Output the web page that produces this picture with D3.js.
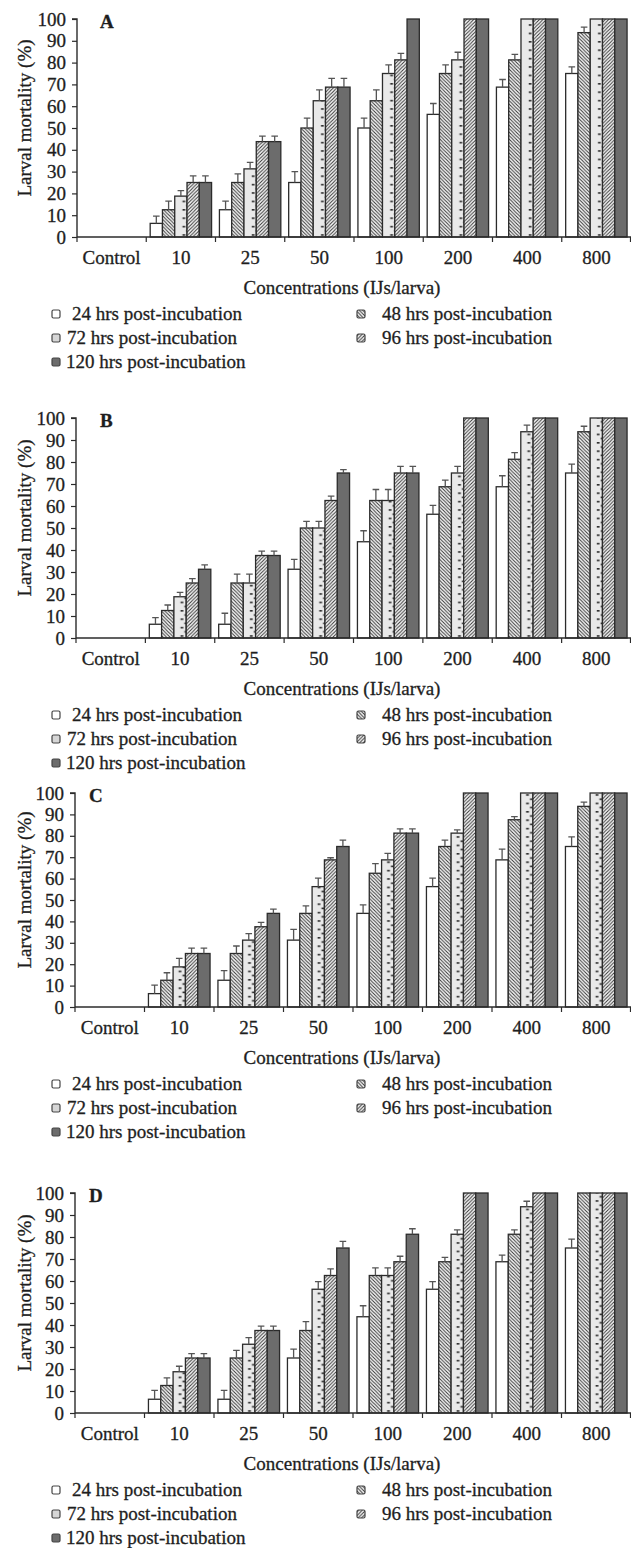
<!DOCTYPE html>
<html>
<head>
<meta charset="utf-8">
<script src="https://cdn.jsdelivr.net/npm/d3@7"></script>
<style>
  html, body { margin: 0; padding: 0; background: #fff; }
  svg { display: block; }
  text { font-family: "Liberation Serif", "Times New Roman", serif; fill: #1e1e1e; stroke: #1e1e1e; stroke-width: 0.3px; }
</style>
</head>
<body>
<svg id="chart" width="631" height="1548"></svg>
<script>
// Concentrations of infective juveniles per larva (x categories)
const concentrations = ["Control", "10", "25", "50", "100", "200", "400", "800"];
// Exposure times (series)
const seriesKeys = ["24", "48", "72", "96", "120"];
const seriesNames = [
  "24 hrs post-incubation", "48 hrs post-incubation", "72 hrs post-incubation",
  "96 hrs post-incubation", "120 hrs post-incubation"
];
const yTicks = [0, 10, 20, 30, 40, 50, 60, 70, 80, 90, 100];
const panelLetters = ["A", "B", "C", "D"];

// Mean larval mortality (%), rows = 24, 48, 72, 96, 120 hrs
const mortalityA = [
  [0, 6.25, 12.5, 25, 50, 56.25, 68.75, 75],
  [0, 12.5, 25, 50, 62.5, 75, 81.25, 93.75],
  [0, 18.75, 31.25, 62.5, 75, 81.25, 100, 100],
  [0, 25, 43.75, 68.75, 81.25, 100, 100, 100],
  [0, 25, 43.75, 68.75, 100, 100, 100, 100]
];
const errorA = [
  [0, 3.3, 4, 5, 4.5, 5, 3.5, 3],
  [0, 4, 4, 4.5, 5, 4, 2.5, 2.5],
  [0, 2.5, 3, 5, 4, 3.5, 0, 0],
  [0, 3, 2.5, 4, 3, 0, 0, 0],
  [0, 3, 2.5, 4, 0, 0, 0, 0]
];

const mortalityB = [
  [0, 6.25, 6.25, 31.25, 43.75, 56.25, 68.75, 75],
  [0, 12.5, 25, 50, 62.5, 68.75, 81.25, 93.75],
  [0, 18.75, 25, 50, 62.5, 75, 93.75, 100],
  [0, 25, 37.5, 62.5, 75, 100, 100, 100],
  [0, 31.25, 37.5, 75, 75, 100, 100, 100]
];
const errorB = [
  [0, 3, 5, 4.5, 5, 4, 5, 4],
  [0, 2.5, 4, 3, 5, 3, 3, 2.5],
  [0, 2, 4, 3, 5, 3, 3, 0],
  [0, 2, 2, 2, 3, 0, 0, 0],
  [0, 2, 2, 1.5, 3, 0, 0, 0]
];

const mortalityC = [
  [0, 6.25, 12.5, 31.25, 43.75, 56.25, 68.75, 75],
  [0, 12.5, 25, 43.75, 62.5, 75, 87.5, 93.75],
  [0, 18.75, 31.25, 56.25, 68.75, 81.25, 100, 100],
  [0, 25, 37.5, 68.75, 81.25, 100, 100, 100],
  [0, 25, 43.75, 75, 81.25, 100, 100, 100]
];
const errorC = [
  [0, 4, 4.5, 5, 4, 4, 5, 4.5],
  [0, 3.5, 3.5, 3.5, 4.5, 3, 1.5, 2],
  [0, 4, 3, 4, 3, 1.5, 0, 0],
  [0, 2.5, 2, 1, 2, 0, 0, 0],
  [0, 2.5, 2, 3, 2, 0, 0, 0]
];

const mortalityD = [
  [0, 6.25, 6.25, 25, 43.75, 56.25, 68.75, 75],
  [0, 12.5, 25, 37.5, 62.5, 68.75, 81.25, 100],
  [0, 18.75, 31.25, 56.25, 62.5, 81.25, 93.75, 100],
  [0, 25, 37.5, 62.5, 68.75, 100, 100, 100],
  [0, 25, 37.5, 75, 81.25, 100, 100, 100]
];
const errorD = [
  [0, 4, 4, 4, 5, 3.5, 3, 4],
  [0, 3.5, 3.5, 4, 3.5, 2, 2, 0],
  [0, 2.5, 3, 3.5, 3.5, 2, 2.5, 0],
  [0, 2, 2, 3, 2.5, 0, 0, 0],
  [0, 2, 2, 3, 2.5, 0, 0, 0]
];

const panelMortality = [mortalityA, mortalityB, mortalityC, mortalityD];
const panelError = [errorA, errorB, errorC, errorD];

// Layout of the four stacked panels
const panelTop = [19, 418, 793, 1193];
const panelBottom = [237, 638, 1007, 1413];
const panelLeft = [77, 76, 75, 75];
const letterX = [100, 100, 89, 89];
const plotRight = 631;

const svg = d3.select("#chart");
const defs = svg.append("defs");
const ink = "#2b2b2b";

// Diagonal hatch fills for the 48 and 96 hrs bars
function hatch(id, back) {
  const s = 3.5;
  const p = defs.append("pattern").attr("id", id)
    .attr("patternUnits", "userSpaceOnUse").attr("width", s).attr("height", s);
  p.append("rect").attr("width", s).attr("height", s).attr("fill", "#fafafa");
  const d = back
    ? `M0,0 L${s},${s} M-1,${s - 1} L1,${s + 1} M${s - 1},-1 L${s + 1},1`
    : `M0,${s} L${s},0 M-1,1 L1,-1 M${s - 1},${s + 1} L${s + 1},${s - 1}`;
  p.append("path").attr("d", d).attr("stroke", "#333").attr("stroke-width", 1);
}
hatch("hatch48", true);
hatch("hatch96", false);

function fillFor(i, pid) {
  return ["#ffffff", "url(#hatch48)", `url(#dash72_${pid})`, "url(#hatch96)", "#6c6c6c"][i];
}

panelLetters.forEach((letter, pi) => {
  const top = panelTop[pi], bottom = panelBottom[pi], left = panelLeft[pi];
  const mortality = panelMortality[pi], errors = panelError[pi];

  const y = d3.scaleLinear().domain([0, 100]).range([bottom, top]);
  const x0 = d3.scaleBand().domain(concentrations).range([left, plotRight]).padding(0);
  const x1 = d3.scaleBand().domain(seriesKeys).range([0, x0.bandwidth()])
    .paddingInner(0).paddingOuter(0.32);

  // Ladder-like dash pattern for the 72 hrs bars, one tile per category band
  const bx = x1("72"), bw = x1.bandwidth();
  const dp = defs.append("pattern").attr("id", `dash72_${pi}`)
    .attr("patternUnits", "userSpaceOnUse")
    .attr("x", left).attr("y", bottom)
    .attr("width", x0.step()).attr("height", 8.4);
  dp.append("rect").attr("width", x0.step()).attr("height", 8.4).attr("fill", "#e9e9e9");
  dp.append("rect").attr("x", bx + bw / 2 - 2.3).attr("y", 1.4).attr("width", 4.6).attr("height", 1.6).attr("fill", "#2e2e2e");
  dp.append("rect").attr("x", bx).attr("y", 5.6).attr("width", 2.8).attr("height", 1.6).attr("fill", "#2e2e2e");
  dp.append("rect").attr("x", bx + bw - 2.8).attr("y", 5.6).attr("width", 2.8).attr("height", 1.6).attr("fill", "#2e2e2e");

  const g = svg.append("g");

  // Bars and upward error bars
  const groups = g.selectAll("g.cat").data(concentrations).join("g")
    .attr("class", "cat")
    .attr("transform", c => `translate(${x0(c)},0)`);

  groups.each(function (c, ci) {
    const cell = d3.select(this);
    const rows = seriesKeys.map((k, si) => ({ k, si, v: mortality[si][ci], e: errors[si][ci] }))
      .filter(d => d.v > 0);
    cell.selectAll("rect.bar").data(rows).join("rect")
      .attr("class", "bar")
      .attr("x", d => x1(d.k))
      .attr("y", d => y(d.v))
      .attr("width", x1.bandwidth())
      .attr("height", d => y(0) - y(d.v))
      .attr("fill", d => fillFor(d.si, pi))
      .attr("stroke", ink).attr("stroke-width", 1.3);

    const eb = rows.filter(d => d.e > 0);
    cell.selectAll("path.err").data(eb).join("path")
      .attr("class", "err")
      .attr("d", d => {
        const cx = x1(d.k) + x1.bandwidth() / 2;
        const yt = y(d.v + d.e);
        return `M${cx},${y(d.v)} V${yt} M${cx - 3.3},${yt} H${cx + 3.3}`;
      })
      .attr("fill", "none").attr("stroke", "#555").attr("stroke-width", 1.3);
  });

  // Y axis
  const yAxis = g.append("g").attr("transform", `translate(${left},0)`)
    .call(d3.axisLeft(y).tickValues(yTicks).tickSize(5).tickPadding(6));
  yAxis.select(".domain").attr("stroke", ink).attr("stroke-width", 1.4).attr("d", `M-5,${top}H0V${bottom}`);
  yAxis.selectAll(".tick line").attr("stroke", ink).attr("stroke-width", 1.2);
  yAxis.selectAll(".tick text").attr("font-size", 19).attr("fill", "#1e1e1e")
    .attr("font-family", "Liberation Serif, serif");

  // X axis with ticks at category boundaries
  const xg = g.append("g");
  xg.append("line").attr("x1", left).attr("x2", plotRight).attr("y1", bottom).attr("y2", bottom)
    .attr("stroke", ink).attr("stroke-width", 1.4);
  const bounds = concentrations.map(c => x0(c)).concat([plotRight - 0.5]);
  xg.selectAll("line.bt").data(bounds).join("line").attr("class", "bt")
    .attr("x1", d => d).attr("x2", d => d).attr("y1", bottom).attr("y2", bottom + 5)
    .attr("stroke", ink).attr("stroke-width", 1.2);
  xg.selectAll("text.cl").data(concentrations).join("text").attr("class", "cl")
    .attr("x", c => x0(c) + x0.bandwidth() / 2)
    .attr("y", bottom + 27)
    .attr("text-anchor", "middle").attr("font-size", 19)
    .text(c => c);

  // Axis titles and panel letter
  g.append("text").attr("x", 342).attr("y", bottom + 57)
    .attr("text-anchor", "middle").attr("font-size", 19)
    .text("Concentrations (IJs/larva)");
  g.append("text")
    .attr("transform", `translate(31,${(top + bottom) / 2 - 10}) rotate(-90)`)
    .attr("text-anchor", "middle").attr("font-size", 19)
    .text("Larval mortality (%)");
  g.append("text").attr("x", letterX[pi]).attr("y", top + 9)
    .attr("font-size", 19).attr("font-weight", "bold").text(letter);

  // Legend
  const legendPos = [
    { sx: 52, tx: 72, row: 0 }, { sx: 357, tx: 382, row: 0 },
    { sx: 52, tx: 67, row: 1 }, { sx: 357, tx: 382, row: 1 },
    { sx: 52, tx: 66, row: 2 }
  ];
  const lg = g.append("g");
  seriesNames.forEach((name, si) => {
    const p = legendPos[si];
    const cy = bottom + 77 + p.row * 24;
    lg.append("rect").attr("x", p.sx).attr("y", cy - 4).attr("width", 8).attr("height", 8)
      .attr("rx", 1.5).attr("fill", si === 2 ? "#d6d6d6" : fillFor(si, pi))
      .attr("stroke", "#444").attr("stroke-width", 1.2);
    lg.append("text").attr("x", p.tx).attr("y", cy + 6).attr("font-size", 19).text(name);
  });
});
</script>
</body>
</html>
